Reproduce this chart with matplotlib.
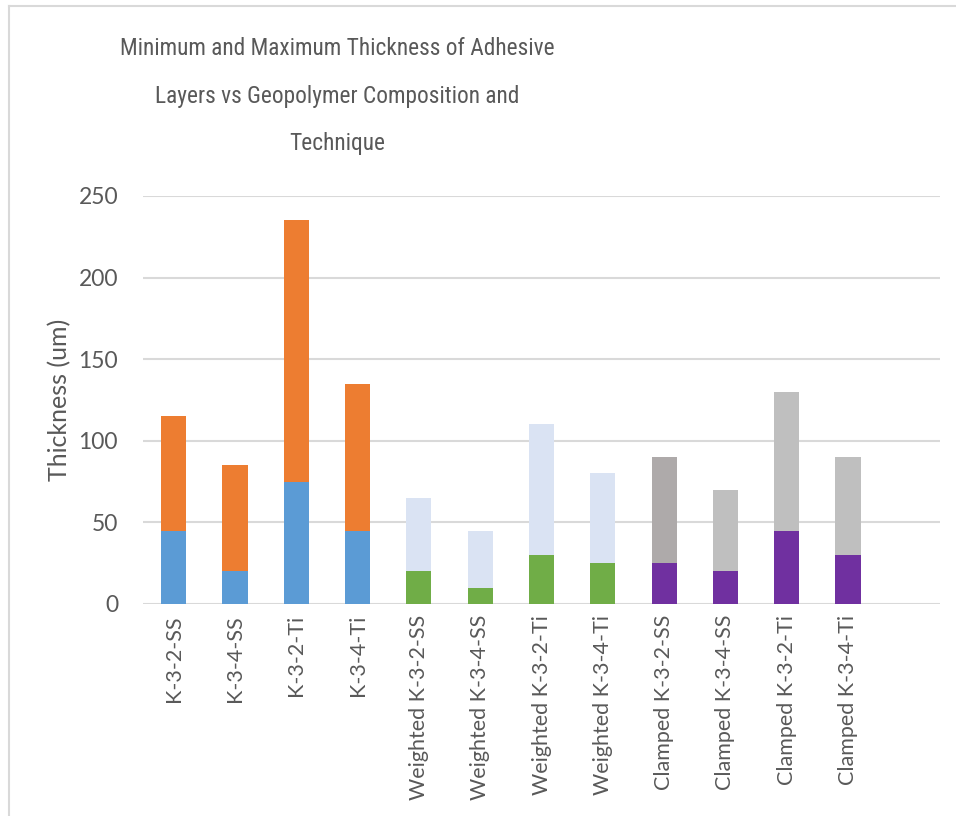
import numpy as np
import matplotlib
matplotlib.use('Agg')
import matplotlib.pyplot as plt
from matplotlib.lines import Line2D

# thickness of adhesive layers (um)
samples = ['K-3-2-SS', 'K-3-4-SS', 'K-3-2-Ti', 'K-3-4-Ti',
           'Weighted K-3-2-SS', 'Weighted K-3-4-SS', 'Weighted K-3-2-Ti', 'Weighted K-3-4-Ti',
           'Clamped K-3-2-SS', 'Clamped K-3-4-SS', 'Clamped K-3-2-Ti', 'Clamped K-3-4-Ti']
min_thick = [45, 20, 75, 45, 20, 10, 30, 25, 25, 20, 45, 30]
max_thick = [115, 85, 235, 135, 65, 45, 110, 80, 90, 70, 130, 90]

min_colors = ['#5B9BD5'] * 4 + ['#70AD47'] * 4 + ['#7030A0'] * 4
max_colors = ['#ED7D31'] * 4 + ['#DAE3F3'] * 4 + ['#AEAAAA'] + ['#BFBFBF'] * 3

txt = '#595959'
plt.rcParams['font.family'] = ['Lato', 'DejaVu Sans']

fig = plt.figure(figsize=(9.56, 8.16), dpi=100)
ax = fig.add_axes([143 / 956, 1 - 604 / 816, (940 - 143) / 956, (604 - 196) / 816])

x = np.arange(len(samples))
mn = np.array(min_thick)
mx = np.array(max_thick)
ax.bar(x, mn, width=0.41, color=min_colors, zorder=3)
ax.bar(x, mx - mn, bottom=mn, width=0.41, color=max_colors, zorder=3)

ax.set_xlim(-0.5, len(samples) + 0.5)
ax.set_ylim(0, 250)
ax.set_yticks(range(0, 251, 50))
ax.grid(axis='y', color='#D9D9D9', linewidth=1.5, zorder=0)
for s in ax.spines.values():
    s.set_visible(False)
ax.tick_params(length=0, colors=txt, labelsize=16.5)
ax.tick_params(axis='y', pad=18)
ax.tick_params(axis='x', pad=8, labelsize=15.5)
ax.set_xticks(x)
ax.set_xticklabels(samples, rotation=90, va='top', ha='center')
ax.set_ylabel('Thickness (um)', color=txt, fontsize=18, labelpad=5)

fig.text(337 / 956, 1 - 96 / 816,
         'Minimum and Maximum Thickness of Adhesive\nLayers vs Geopolymer Composition and\nTechnique',
         ha='center', va='center', fontsize=16.8, color=txt, linespacing=2.34,
         family=['Roboto Condensed', 'Lato'])

# chart frame edges
fig.add_artist(Line2D([9 / 956, 9 / 956], [0, 1 - 6 / 816], color='#D9D9D9', lw=1.5))
fig.add_artist(Line2D([9 / 956, 1], [1 - 6 / 816, 1 - 6 / 816], color='#D9D9D9', lw=1.5))

fig.savefig('out.png', dpi=100)
